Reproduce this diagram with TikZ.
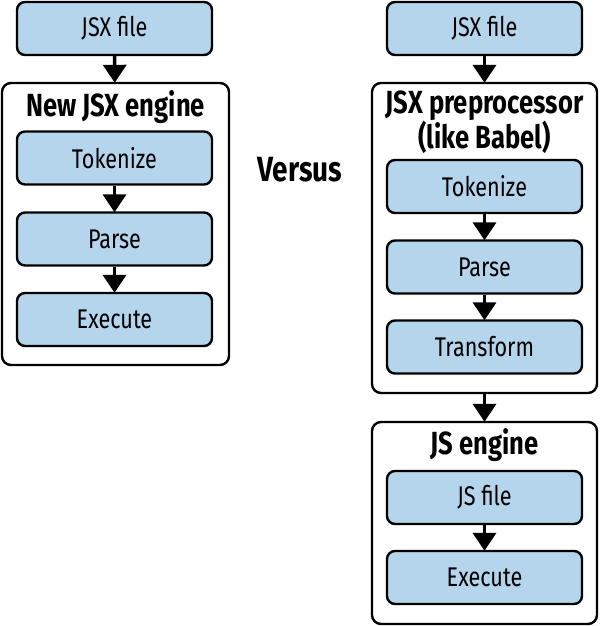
\documentclass[tikz,border=0pt]{standalone}
\usepackage{fontspec}
\setmainfont{Fira Sans}[FakeStretch=0.8]
\usetikzlibrary{arrows.meta}
\definecolor{boxblue}{RGB}{180,213,235}
\tikzset{
  stepbox/.style={draw=black, line width=2.4pt, rounded corners=8pt, fill=boxblue,
    minimum width=195pt, minimum height=53pt, inner sep=0pt, font=\fontsize{27}{30}\selectfont},
  group/.style={draw=black, line width=2.4pt, rounded corners=9pt, fill=white, inner sep=0pt},
  gtitle/.style={font=\fontsize{32}{31}\selectfont\bfseries, align=center, inner sep=0pt},
  flow/.style={line width=3.6pt, -{Triangle[width=23pt,length=18pt]}, shorten >=-1pt}
}
\begin{document}
\begin{tikzpicture}[x=1pt,y=-1pt]
\useasboundingbox (0,0) rectangle (600,626);
% left column
\node[stepbox] (ljsx) at (114.5,28.5) {JSX file};
\node[group, minimum width=227pt, minimum height=282pt] (lgrp) at (115.5,224) {};
\node[gtitle] (ltitle) at (115.5,107) {New JSX engine};
\node[stepbox] (ltok) at (114.5,158) {Tokenize};
\node[stepbox] (lparse) at (114.5,239) {Parse};
\node[stepbox] (lexec) at (114.5,319.5) {Execute};
\draw[flow] (ljsx) -- (lgrp);
\draw[flow] (ltok) -- (lparse);
\draw[flow] (lparse) -- (lexec);
% versus
\node[font=\fontsize{35}{38}\selectfont\bfseries, inner sep=0pt] (vs) at (300,170) {Versus};
% right column
\node[stepbox] (rjsx) at (484.5,28.5) {JSX file};
\node[group, minimum width=225pt, minimum height=310pt] (rgrp) at (484.5,238) {};
\node[gtitle] (rtitle) at (484.5,122) {JSX preprocessor\\(like Babel)};
\node[stepbox] (rtok) at (484.5,186.5) {Tokenize};
\node[stepbox] (rparse) at (484.5,267) {Parse};
\node[stepbox] (rtrans) at (484.5,347) {Transform};
\node[group, minimum width=225pt, minimum height=202pt] (jsgrp) at (484.5,523) {};
\node[gtitle] (jstitle) at (484.5,445) {JS engine};
\node[stepbox] (jsfile) at (484.5,497.5) {JS file};
\node[stepbox] (jsexec) at (484.5,577.5) {Execute};
\draw[flow] (rjsx) -- (rgrp);
\draw[flow] (rtok) -- (rparse);
\draw[flow] (rparse) -- (rtrans);
\draw[flow] (rgrp) -- (jsgrp);
\draw[flow] (jsfile) -- (jsexec);
\end{tikzpicture}
\end{document}
